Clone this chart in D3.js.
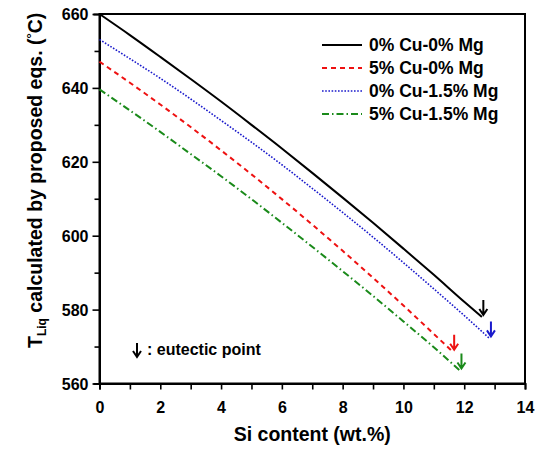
<!DOCTYPE html>
<html>
<head>
<meta charset="utf-8">
<script src="https://cdn.jsdelivr.net/npm/d3@7"></script>
<style>
  body { margin: 0; background: #fff; }
  text { font-family: "Liberation Sans", Arial, sans-serif; font-weight: bold; }
</style>
</head>
<body>
<script>
const width = 538;
const height = 451;

// Données
const siValues = [0, 1, 2, 3, 4, 5, 6, 7, 8, 9, 10, 11, 12];
const cu0mg0 = [660, 654.3, 648.4, 642.4, 636.3, 630.0, 623.6, 617.0, 610.3, 603.5, 596.5, 589.4, 582.1, 578.0];
const cu5mg0 = [647.1, 641.4, 635.5, 629.4, 623.1, 616.6, 609.9, 603.0, 595.9, 588.6, 581.1, 573.4, 568.6];
const cu0mg15 = [653.1, 647.9, 642.6, 637.0, 631.2, 625.3, 619.2, 612.8, 606.3, 599.6, 592.7, 585.6, 578.4, 572.2];
const cu5mg15 = [639.6, 633.9, 628.1, 622.1, 616.1, 609.9, 603.5, 597.0, 590.4, 583.7, 576.8, 569.8, 563.5];
// point eutectique (dernier x de chaque courbe)
const eutecticSi = [12.58, 11.62, 12.83, 11.86];
const seriesNames = ["0% Cu-0% Mg", "5% Cu-0% Mg", "0% Cu-1.5% Mg", "5% Cu-1.5% Mg"];
const xTicks = [0, 2, 4, 6, 8, 10, 12, 14];
const yTicks = [560, 580, 600, 620, 640, 660];

const seriesValues = [cu0mg0, cu5mg0, cu0mg15, cu5mg15];
const colors = ["#000000", "#ee1111", "#1a1acc", "#1a8a1a"];
const dashes = [null, "5,4", "1.6,1.6", "7,3,1.5,3"];

const series = seriesValues.map((vals, i) => ({
    name: seriesNames[i],
    color: colors[i],
    dash: dashes[i],
    points: vals.map((v, j) => ({ x: j < vals.length - 1 ? siValues[j] : eutecticSi[i], y: v }))
}));

const margin = { left: 99.5, right: 13, top: 14, bottom: 67.5 };

const x = d3.scaleLinear().domain([0, 14]).range([margin.left, width - margin.right]);
const y = d3.scaleLinear().domain([560, 660]).range([height - margin.bottom, margin.top]);

const svg = d3.select("body").append("svg")
    .attr("width", width)
    .attr("height", height);

// Cadre
svg.append("rect")
    .attr("x", x(0)).attr("y", y(660))
    .attr("width", x(14) - x(0)).attr("height", y(560) - y(660))
    .attr("fill", "none").attr("stroke", "#000").attr("stroke-width", 2);

// Axe X
const xAxis = svg.append("g").attr("transform", `translate(0,${y(560)})`);
xAxis.call(d3.axisBottom(x).tickValues(d3.range(0, 15, 1)).tickSize(6).tickFormat(""));
xAxis.selectAll(".tick").filter(d => xTicks.includes(d)).append("text")
    .attr("y", 18).attr("dy", "0.71em")
    .attr("text-anchor", "middle")
    .attr("fill", "#000")
    .attr("font-size", 16)
    .text(d => d);

// Axe Y
const yAxis = svg.append("g").attr("transform", `translate(${x(0)},0)`);
yAxis.call(d3.axisLeft(y).tickValues(d3.range(560, 661, 10)).tickSize(6).tickFormat(""));
yAxis.selectAll(".tick line").attr("x2", d => yTicks.includes(d) ? -7 : -5);
yAxis.selectAll(".tick").filter(d => yTicks.includes(d)).append("text")
    .attr("x", -11).attr("dy", "0.36em")
    .attr("text-anchor", "end")
    .attr("fill", "#000")
    .attr("font-size", 16)
    .text(d => d);

svg.selectAll(".domain").attr("stroke-width", 2);
svg.selectAll(".tick line").attr("stroke-width", 1.6);

// Courbes
const line = d3.line().x(d => x(d.x)).y(d => y(d.y)).curve(d3.curveMonotoneX);

svg.selectAll("path.serie")
    .data(series)
    .enter()
    .append("path")
    .attr("class", "serie")
    .attr("d", d => line(d.points))
    .attr("fill", "none")
    .attr("stroke", d => d.color)
    .attr("stroke-width", d => d.dash === "1.6,1.6" ? 1.6 : 2)
    .attr("stroke-dasharray", d => d.dash);

// Flèches des points eutectiques
function arrowPath(px, py, len) {
    return `M${px},${py - len}L${px},${py}M${px - 4},${py - 6}L${px},${py}L${px + 4},${py - 6}`;
}

svg.selectAll("path.arrow")
    .data(series)
    .enter()
    .append("path")
    .attr("class", "arrow")
    .attr("d", d => {
        const last = d.points[d.points.length - 1];
        return arrowPath(x(last.x) + 1.5, y(last.y) - 2, 15);
    })
    .attr("fill", "none")
    .attr("stroke", d => d.color)
    .attr("stroke-width", 2);

// Légende
const legend = svg.append("g");
series.forEach((s, i) => {
    const ly = 45 + i * 23;
    legend.append("line")
        .attr("x1", 322).attr("x2", 362)
        .attr("y1", ly).attr("y2", ly)
        .attr("stroke", s.color)
        .attr("stroke-width", s.dash === "1.6,1.6" ? 1.6 : 2)
        .attr("stroke-dasharray", s.dash);
    legend.append("text")
        .attr("x", 369).attr("y", ly).attr("dy", "0.36em")
        .attr("font-size", 17.5)
        .attr("fill", "#000")
        .text(s.name);
});

// Note eutectique
svg.append("path")
    .attr("d", arrowPath(137, 357, 14))
    .attr("fill", "none").attr("stroke", "#000").attr("stroke-width", 2);
svg.append("text")
    .attr("x", 147).attr("y", 355)
    .attr("font-size", 16)
    .attr("fill", "#000")
    .text(": eutectic point");

// Titres des axes
svg.append("text")
    .attr("x", (x(0) + x(14)) / 2).attr("y", 441)
    .attr("text-anchor", "middle")
    .attr("font-size", 19.5)
    .attr("fill", "#000")
    .text("Si content (wt.%)");

const yTitle = svg.append("text")
    .attr("transform", "translate(42,348) rotate(-90)")
    .attr("font-size", 19.5)
    .attr("fill", "#000");
yTitle.append("tspan").text("T");
yTitle.append("tspan").attr("font-size", 12).attr("dy", 4).text("Liq");
yTitle.append("tspan").attr("dy", -4).text(" calculated by proposed eqs. (");
yTitle.append("tspan").attr("font-size", 13).attr("dy", -6).text("°");
yTitle.append("tspan").attr("dy", 6).text("C)");
</script>
</body>
</html>
